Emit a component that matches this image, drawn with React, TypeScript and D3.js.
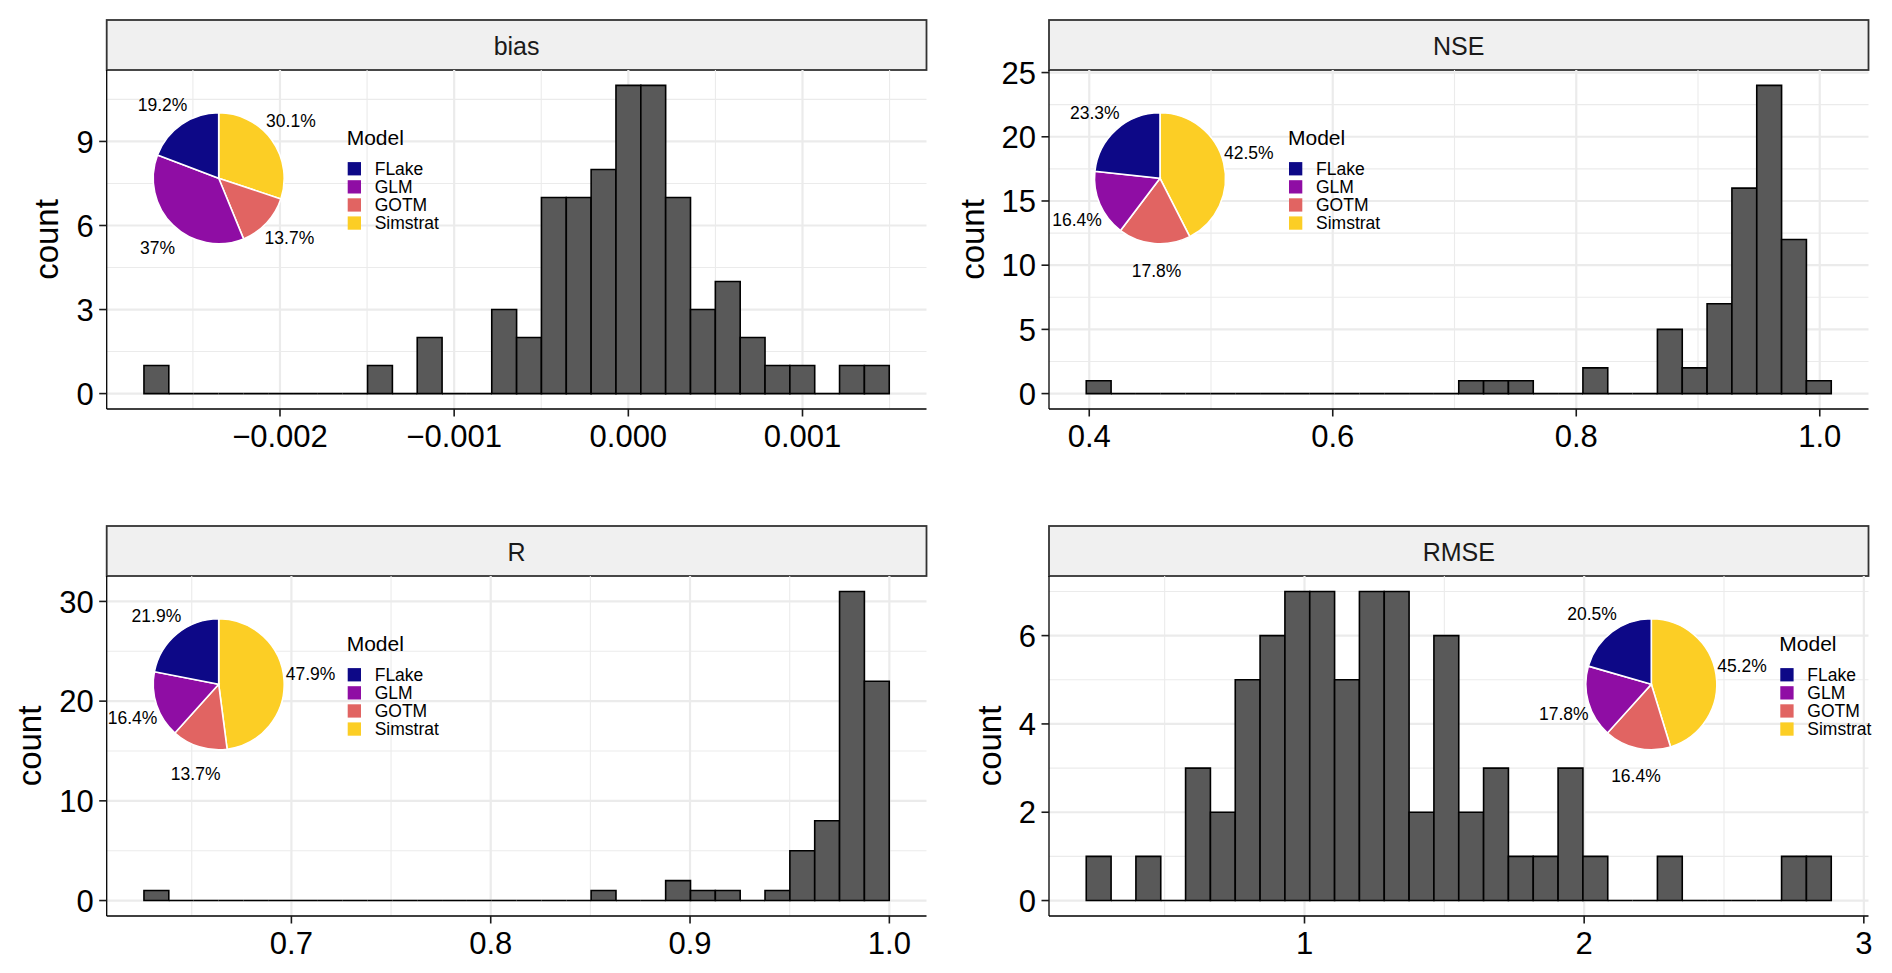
import { useRef, useEffect } from "react";
import * as d3 from "d3";

const models = ["FLake", "GLM", "GOTM", "Simstrat"];
const modelColors = [0, 0.3, 0.6, 0.9].map((t) => d3.interpolatePlasma(t));

// histogram counts, 30 bins each
const biasCounts = [1, 0, 0, 0, 0, 0, 0, 0, 0, 1, 0, 2, 0, 0, 3, 2, 7, 7, 8, 11, 11, 7, 3, 4, 2, 1, 1, 0, 1, 1];
const nseCounts = [1, 0, 0, 0, 0, 0, 0, 0, 0, 0, 0, 0, 0, 0, 0, 1, 1, 1, 0, 0, 2, 0, 0, 5, 2, 7, 16, 24, 12, 1];
const rCounts = [1, 0, 0, 0, 0, 0, 0, 0, 0, 0, 0, 0, 0, 0, 0, 0, 0, 0, 1, 0, 0, 2, 1, 1, 0, 1, 5, 8, 31, 22];
const rmseCounts = [1, 0, 1, 0, 3, 2, 5, 6, 7, 7, 5, 7, 7, 2, 6, 2, 3, 1, 1, 3, 1, 0, 0, 1, 0, 0, 0, 0, 1, 1];

// outer edges of the binned range
const biasRange = [-0.002781, 0.001498];
const nseRange = [0.39754, 1.00944];
const rRange = [0.62603, 0.99994];
const rmseRange = [0.2196, 2.8835];

// axis ticks
const biasXTicks = [-0.002, -0.001, 0, 0.001];
const biasXLabels = ["\u22120.002", "\u22120.001", "0.000", "0.001"];
const nseXTicks = [0.4, 0.6, 0.8, 1.0];
const nseXLabels = ["0.4", "0.6", "0.8", "1.0"];
const rXTicks = [0.7, 0.8, 0.9, 1.0];
const rXLabels = ["0.7", "0.8", "0.9", "1.0"];
const rmseXTicks = [1, 2, 3];
const rmseXLabels = ["1", "2", "3"];

const biasYTicks = [0, 3, 6, 9];
const nseYTicks = [0, 5, 10, 15, 20, 25];
const rYTicks = [0, 10, 20, 30];
const rmseYTicks = [0, 2, 4, 6];

// pie shares (%) per model, order FLake, GLM, GOTM, Simstrat
const biasShares = [19.2, 37, 13.7, 30.1];
const nseShares = [23.3, 16.4, 17.8, 42.5];
const rShares = [21.9, 16.4, 13.7, 47.9];
const rmseShares = [20.5, 17.8, 16.4, 45.2];

const FONT = "'Liberation Sans', Arial, Helvetica, sans-serif";

function minorBreaks(ticks: number[], lo: number, hi: number) {
  const step = ticks[1] - ticks[0];
  const out: number[] = [];
  for (let i = -1; i < ticks.length; i++) {
    const m = ticks[0] + (i + 0.5) * step;
    if (m >= lo && m <= hi) out.push(m);
  }
  return out;
}

function drawPanel(svg, p) {
  const { x0, x1, top, bottom, title, counts, range, xTicks, xLabels, yTicks, shares, pieX } = p;
  const stripTop = top - 50;

  const span = range[1] - range[0];
  const x = d3.scaleLinear().domain([range[0] - 0.05 * span, range[1] + 0.05 * span]).range([x0, x1]);
  const ymax = d3.max(counts);
  const y = d3.scaleLinear().domain([-0.05 * ymax, ymax * 1.05]).range([bottom, top]);
  const g = svg.append("g");

  // strip
  g.append("rect")
    .attr("x", x0).attr("y", stripTop)
    .attr("width", x1 - x0).attr("height", top - stripTop)
    .attr("fill", "#F0F0F0").attr("stroke", "#333").attr("stroke-width", 1.8);
  g.append("text")
    .attr("x", (x0 + x1) / 2).attr("y", stripTop + 34.5)
    .attr("text-anchor", "middle")
    .attr("font-size", 25).attr("font-family", FONT).attr("fill", "#1a1a1a")
    .text(title);

  // grid
  const xd = x.domain(), yd = y.domain();
  const grid = g.append("g").attr("stroke", "#EBEBEB");
  minorBreaks(xTicks, xd[0], xd[1]).forEach((v) =>
    grid.append("line").attr("x1", x(v)).attr("x2", x(v)).attr("y1", top).attr("y2", bottom).attr("stroke-width", 1.1));
  minorBreaks(yTicks, yd[0], yd[1]).forEach((v) =>
    grid.append("line").attr("y1", y(v)).attr("y2", y(v)).attr("x1", x0).attr("x2", x1).attr("stroke-width", 1.1));
  xTicks.forEach((v) =>
    grid.append("line").attr("x1", x(v)).attr("x2", x(v)).attr("y1", top).attr("y2", bottom).attr("stroke-width", 2.2));
  yTicks.forEach((v) =>
    grid.append("line").attr("y1", y(v)).attr("y2", y(v)).attr("x1", x0).attr("x2", x1).attr("stroke-width", 2.2));

  // histogram bars (paths so empty bins still draw their outline)
  const bw = span / counts.length;
  g.append("g").selectAll("path")
    .data(counts)
    .join("path")
    .attr("d", (c, i) => {
      const a = x(range[0] + i * bw), b = x(range[0] + (i + 1) * bw);
      return `M${a},${y(0)}H${b}V${y(c)}H${a}Z`;
    })
    .attr("fill", "#595959").attr("stroke", "#000").attr("stroke-width", 1.6)
    .attr("stroke-linejoin", "miter");

  // axes
  g.append("line").attr("x1", x0).attr("x2", x1).attr("y1", bottom).attr("y2", bottom)
    .attr("stroke", "#000").attr("stroke-width", 1.6);
  g.append("line").attr("x1", x0).attr("x2", x0).attr("y1", top).attr("y2", bottom)
    .attr("stroke", "#000").attr("stroke-width", 1.3);

  xTicks.forEach((v, i) => {
    g.append("line").attr("x1", x(v)).attr("x2", x(v)).attr("y1", bottom).attr("y2", bottom + 7.5)
      .attr("stroke", "#1a1a1a").attr("stroke-width", 1.6);
    g.append("text").attr("x", x(v)).attr("y", bottom + 38)
      .attr("text-anchor", "middle").attr("font-size", 31).attr("font-family", FONT)
      .attr("fill", "#000").text(xLabels[i]);
  });
  yTicks.forEach((v) => {
    g.append("line").attr("x1", x0 - 7.5).attr("x2", x0).attr("y1", y(v)).attr("y2", y(v))
      .attr("stroke", "#1a1a1a").attr("stroke-width", 1.6);
    g.append("text").attr("x", x0 - 13).attr("y", y(v)).attr("dy", "0.36em")
      .attr("text-anchor", "end").attr("font-size", 31).attr("font-family", FONT)
      .attr("fill", "#000").text(String(v));
  });

  // y title
  const labelW = d3.max(yTicks, (v) => String(v).length) * 0.556 * 31;
  const tx = x0 - 13 - labelW - 27 + 9;
  g.append("text")
    .attr("transform", `translate(${tx},${(top + bottom) / 2}) rotate(-90)`)
    .attr("text-anchor", "middle").attr("font-size", 33).attr("font-family", FONT)
    .attr("fill", "#000").text("count");

  // inset pie
  const cx = x0 + pieX, cy = top + 108.3, r = 65.5;
  const order = [3, 2, 1, 0];
  const pie = d3.pie().sort(null).value((i) => shares[i]);
  const arc = d3.arc().innerRadius(0).outerRadius(r);
  const arcs = pie(order);
  const pg = g.append("g").attr("transform", `translate(${cx},${cy})`);
  pg.selectAll("path").data(arcs).join("path")
    .attr("d", arc)
    .attr("fill", (d) => modelColors[d.data])
    .attr("stroke", "#fff").attr("stroke-width", 1.6);
  pg.selectAll("text").data(arcs).join("text")
    .attr("x", (d) => Math.sin((d.startAngle + d.endAngle) / 2 - 0.05) * 92.5)
    .attr("y", (d) => -Math.cos((d.startAngle + d.endAngle) / 2 - 0.05) * 92.5)
    .attr("dy", "0.36em")
    .attr("text-anchor", "middle").attr("font-size", 17.5).attr("font-family", FONT)
    .attr("fill", "#000")
    .text((d) => `${shares[d.data]}%`);

  // legend
  const lx = cx + 129;
  g.append("text").attr("x", lx - 1).attr("y", cy - 33.8)
    .attr("font-size", 21).attr("font-family", FONT).attr("fill", "#000").text("Model");
  models.forEach((m, i) => {
    const ky = cy - 16.2 + i * 18.1;
    g.append("rect").attr("x", lx).attr("y", ky).attr("width", 13.3).attr("height", 13.3)
      .attr("fill", modelColors[i]);
    g.append("text").attr("x", lx + 27).attr("y", ky + 12.4)
      .attr("font-size", 17.5).attr("font-family", FONT).attr("fill", "#000").text(m);
  });
}

export default function App() {
  const svgRef = useRef(null);

  useEffect(() => {
    const svg = d3.select(svgRef.current);
    svg.selectAll("*").remove();
    svg.append("rect").attr("width", 1892).attr("height", 973).attr("fill", "#fff");

    const L = [106.7, 926.5], R = [1049, 1868.5];
    const panels = [
      { x0: L[0], x1: L[1], top: 70, bottom: 409, title: "bias", counts: biasCounts, range: biasRange,
        xTicks: biasXTicks, xLabels: biasXLabels, yTicks: biasYTicks, shares: biasShares, pieX: 112 },
      { x0: R[0], x1: R[1], top: 70, bottom: 409, title: "NSE", counts: nseCounts, range: nseRange,
        xTicks: nseXTicks, xLabels: nseXLabels, yTicks: nseYTicks, shares: nseShares, pieX: 111 },
      { x0: L[0], x1: L[1], top: 576, bottom: 916, title: "R", counts: rCounts, range: rRange,
        xTicks: rXTicks, xLabels: rXLabels, yTicks: rYTicks, shares: rShares, pieX: 112 },
      { x0: R[0], x1: R[1], top: 576, bottom: 916, title: "RMSE", counts: rmseCounts, range: rmseRange,
        xTicks: rmseXTicks, xLabels: rmseXLabels, yTicks: rmseYTicks, shares: rmseShares, pieX: 602.3 },
    ];
    panels.forEach((p) => drawPanel(svg, p));

    return () => {
      d3.select(svgRef.current).selectAll("*").remove();
    };
  }, []);

  return (
    <svg
      ref={svgRef}
      width={1892}
      height={973}
      style={{ position: "absolute", left: 0, top: 0, display: "block" }}
    ></svg>
  );
}
